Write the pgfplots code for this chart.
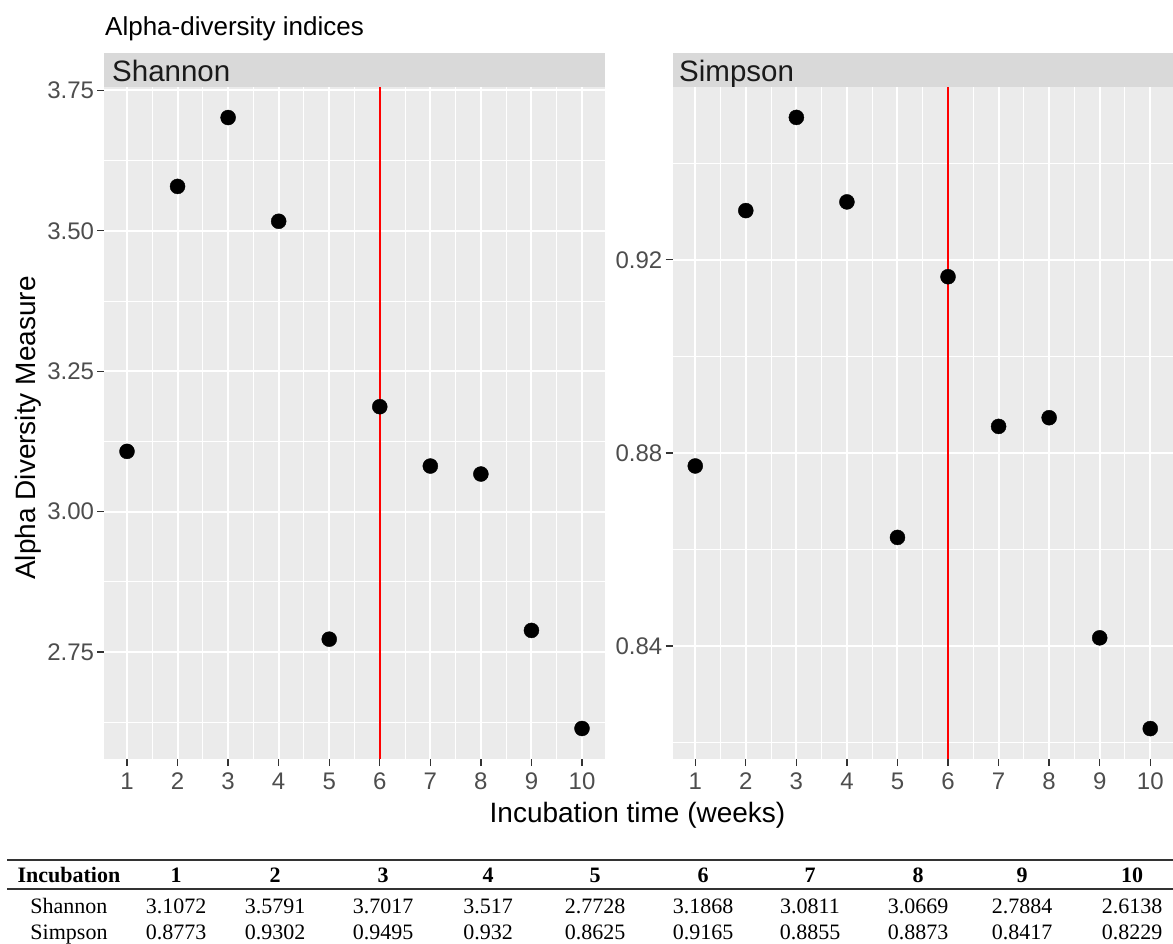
\documentclass[border=0pt]{standalone}
\usepackage{pgfplots}
\pgfplotsset{compat=1.18}
\usepackage{fontspec}
\setmainfont{Liberation Sans}
\newfontfamily\tabfont{Liberation Serif}
\definecolor{panelbg}{HTML}{EBEBEB}
\definecolor{stripbg}{HTML}{D9D9D9}
\definecolor{striptext}{HTML}{1A1A1A}
\definecolor{ticktext}{HTML}{4D4D4D}
\definecolor{tickmark}{HTML}{333333}
\definecolor{rulec}{HTML}{333333}
\newcommand{\fs}[1]{\fontsize{#1pt}{#1pt}\selectfont}

\pgfplotsset{ggpanel/.style={
  scale only axis, width=500.5pt, height=672pt,
  axis background/.style={fill=panelbg},
  axis line style={draw=none},
  xmin=0.55, xmax=10.45,
  xtick={1,2,3,4,5,6,7,8,9,10},
  minor xtick={1.5,2.5,3.5,4.5,5.5,6.5,7.5,8.5,9.5},
  grid=both,
  major grid style={draw=white, line width=2pt},
  minor grid style={draw=white, line width=1pt},
  tick align=outside, tick pos=left,
  major tick length=7pt, minor tick length=0pt,
  tick style={draw=tickmark, line width=1.3pt},
  ticklabel style={font=\fs{24}, text=ticktext},
  /pgf/number format/assume math mode=true,
  xticklabel style={inner sep=0pt, anchor=north, yshift=-7pt},
  yticklabel style={inner sep=0pt, anchor=east, xshift=-3pt,
    /pgf/number format/fixed, /pgf/number format/fixed zerofill,
    /pgf/number format/precision=2},
  clip=false,
}}

\begin{document}
\begin{tikzpicture}[x=1pt,y=1pt]
\path[use as bounding box] (0,0) rectangle (1173,-943);

% title
\node[anchor=base west, inner sep=0pt, font=\fs{26}, text=black] at (105,-35) {Alpha-diversity indices};

% strips
\fill[stripbg] (104.25,-53) rectangle (604.75,-87);
\fill[stripbg] (672.5,-53) rectangle (1173,-87);
\node[anchor=base west, inner sep=0pt, font=\fs{29.5}, text=striptext] at (112,-81) {Shannon};
\node[anchor=base west, inner sep=0pt, font=\fs{29.5}, text=striptext] at (679,-81) {Simpson};

% Shannon panel
\begin{axis}[ggpanel, at={(104.25pt,-759pt)}, anchor=south west,
  ymin=2.5594, ymax=3.7561,
  ytick={2.75,3,3.25,3.5,3.75},
  minor ytick={2.625,2.875,3.125,3.375,3.625}]
\addplot[red, line width=2pt, forget plot] coordinates {(6,2.5594) (6,3.7561)};
\addplot[only marks, mark=*, mark size=7.5pt, black, mark options={draw=black, fill=black}] coordinates {
(1,3.1072) (2,3.5791) (3,3.7017) (4,3.517) (5,2.7728)
(6,3.1868) (7,3.0811) (8,3.0669) (9,2.7884) (10,2.6138)};
\end{axis}

% Simpson panel
\begin{axis}[ggpanel, at={(672.5pt,-759pt)}, anchor=south west,
  ymin=0.8166, ymax=0.9558,
  ytick={0.84,0.88,0.92},
  minor ytick={0.82,0.86,0.90,0.94}]
\addplot[red, line width=2pt, forget plot] coordinates {(6,0.8166) (6,0.9558)};
\addplot[only marks, mark=*, mark size=7.5pt, black, mark options={draw=black, fill=black}] coordinates {
(1,0.8773) (2,0.9302) (3,0.9495) (4,0.932) (5,0.8625)
(6,0.9165) (7,0.8855) (8,0.8873) (9,0.8417) (10,0.8229)};
\end{axis}

% axis titles
\node[anchor=base, inner sep=0pt, font=\fs{28}, text=black] at (637.5,-822) {Incubation time (weeks)};
\node[anchor=base, rotate=90, inner sep=0pt, font=\fs{28}, text=black] at (35,-428) {Alpha Diversity Measure};

% table
\draw[rulec, line width=1.8pt] (7,-860) -- (1173,-860);
\draw[rulec, line width=1.8pt] (7,-889) -- (1173,-889);
\begin{scope}[every node/.style={anchor=base, inner sep=0pt, font=\tabfont\fs{22}, text=black}]
\node at (69,-882) {\bfseries Incubation};
\node at (69,-913) {Shannon};
\node at (69,-939) {Simpson};
\node at (176,-882) {\bfseries 1};
\node at (275,-882) {\bfseries 2};
\node at (383,-882) {\bfseries 3};
\node at (488,-882) {\bfseries 4};
\node at (595,-882) {\bfseries 5};
\node at (703,-882) {\bfseries 6};
\node at (810,-882) {\bfseries 7};
\node at (918,-882) {\bfseries 8};
\node at (1022,-882) {\bfseries 9};
\node at (1132,-882) {\bfseries 10};
\node at (176,-913) {3.1072};
\node at (275,-913) {3.5791};
\node at (383,-913) {3.7017};
\node at (488,-913) {3.517};
\node at (595,-913) {2.7728};
\node at (703,-913) {3.1868};
\node at (810,-913) {3.0811};
\node at (918,-913) {3.0669};
\node at (1022,-913) {2.7884};
\node at (1132,-913) {2.6138};
\node at (176,-939) {0.8773};
\node at (275,-939) {0.9302};
\node at (383,-939) {0.9495};
\node at (488,-939) {0.932};
\node at (595,-939) {0.8625};
\node at (703,-939) {0.9165};
\node at (810,-939) {0.8855};
\node at (918,-939) {0.8873};
\node at (1022,-939) {0.8417};
\node at (1132,-939) {0.8229};
\end{scope}
\end{tikzpicture}
\end{document}
